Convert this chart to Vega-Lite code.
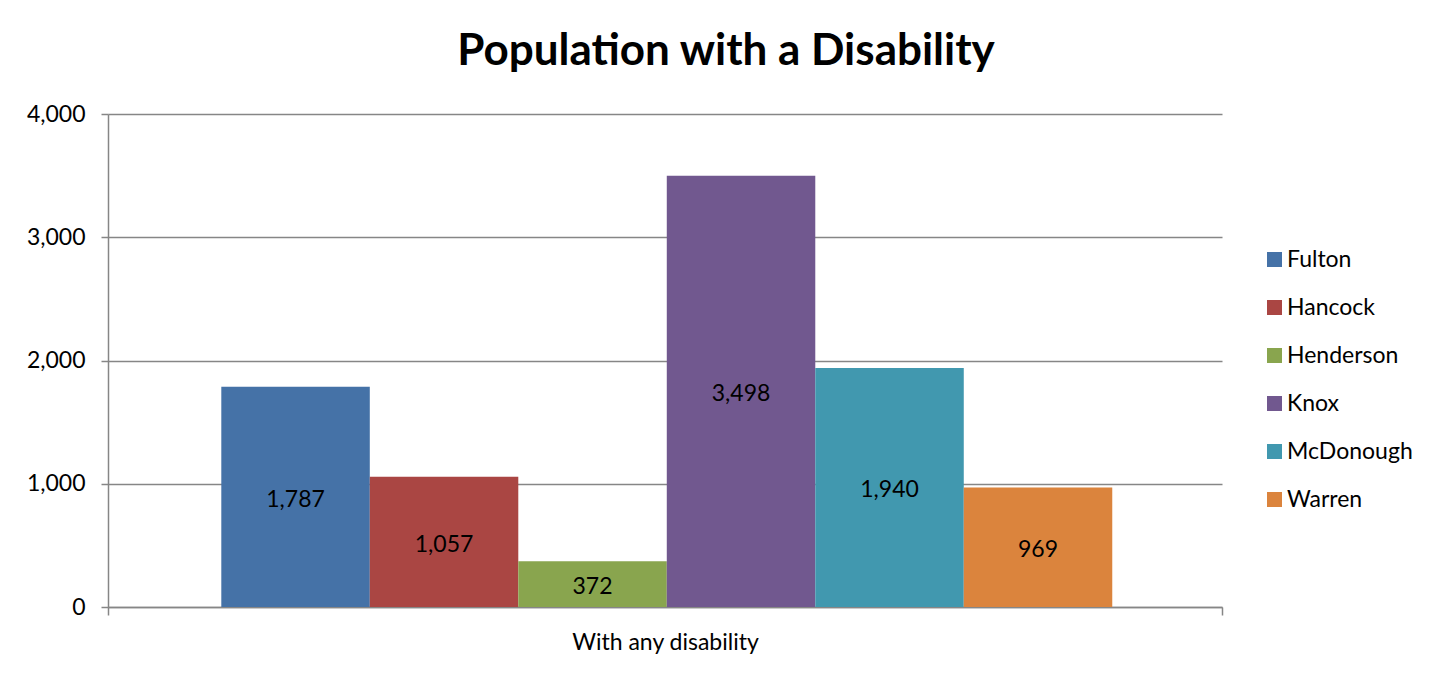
{
  "$schema": "https://vega.github.io/schema/vega-lite/v6.json",
  "autosize": {"type": "none"},
  "width": 1114,
  "height": 493,
  "padding": {"left": 108, "top": 114, "right": 231, "bottom": 66},
  "background": "white",
  "title": {
    "text": "Population with a Disability",
    "font": "Lato",
    "fontSize": 44,
    "fontWeight": "bold",
    "color": "#000000",
    "anchor": "middle",
    "baseline": "alphabetic",
    "dx": 61,
    "offset": -6
  },
  "data": {
    "values": [
      {"group": "With any disability", "county": "Fulton", "value": 1787},
      {"group": "With any disability", "county": "Hancock", "value": 1057},
      {"group": "With any disability", "county": "Henderson", "value": 372},
      {"group": "With any disability", "county": "Knox", "value": 3498},
      {"group": "With any disability", "county": "McDonough", "value": 1940},
      {"group": "With any disability", "county": "Warren", "value": 969}
    ]
  },
  "encoding": {
    "x": {
      "field": "group",
      "type": "nominal",
      "scale": {"paddingInner": 0, "paddingOuter": 0},
      "axis": {
        "title": null,
        "labelAngle": 0,
        "labelFont": "Lato",
        "labelFontSize": 23,
        "labelColor": "#000000",
        "labelPadding": 16,
        "labelDx": 6,
        "labelLimit": 0,
        "tickBand": "extent",
        "tickSize": 8,
        "tickColor": "#868686",
        "tickWidth": 1.5,
        "domainColor": "#868686",
        "domainWidth": 1.5,
        "grid": false
      }
    },
    "xOffset": {
      "field": "county",
      "type": "nominal",
      "sort": ["Fulton", "Hancock", "Henderson", "Knox", "McDonough", "Warren"],
      "scale": {"paddingInner": 0, "paddingOuter": 0.751, "align": 0.508}
    }
  },
  "layer": [
    {
      "mark": {"type": "bar"},
      "encoding": {
        "y": {
          "field": "value",
          "type": "quantitative",
          "scale": {"domain": [0, 4000], "nice": false},
          "axis": {
            "title": null,
            "values": [0, 1000, 2000, 3000, 4000],
            "format": ",.0f",
            "labelFont": "Lato",
            "labelFontSize": 23,
            "labelColor": "#000000",
            "labelPadding": 16,
            "tickSize": 7,
            "tickColor": "#868686",
            "tickWidth": 1.5,
            "domainColor": "#868686",
            "domainWidth": 1.5,
            "grid": true,
            "gridColor": "#868686",
            "gridWidth": 1.5
          }
        },
        "color": {
          "field": "county",
          "type": "nominal",
          "sort": ["Fulton", "Hancock", "Henderson", "Knox", "McDonough", "Warren"],
          "scale": {
            "domain": ["Fulton", "Hancock", "Henderson", "Knox", "McDonough", "Warren"],
            "range": ["#4572A7", "#AA4643", "#89A54E", "#71588F", "#4198AF", "#DB843D"]
          },
          "legend": {
            "title": null,
            "orient": "none",
            "legendX": 1155,
            "legendY": 134,
            "padding": 0,
            "symbolType": "square",
            "symbolSize": 225,
            "symbolStrokeWidth": 0,
            "labelFont": "Lato",
            "labelFontSize": 23,
            "labelColor": "#000000",
            "labelOffset": 1,
            "rowPadding": 24
          }
        }
      }
    },
    {
      "transform": [{"calculate": "datum.value / 2", "as": "labelPos"}],
      "mark": {"type": "text", "font": "Lato", "fontSize": 23, "color": "#000000", "baseline": "middle", "align": "center", "dy": 3},
      "encoding": {
        "y": {"field": "labelPos", "type": "quantitative"},
        "text": {"field": "value", "type": "quantitative", "format": ","}
      }
    }
  ],
  "config": {
    "view": {"stroke": null},
    "axis": {"labelFontWeight": "normal"}
  }
}
